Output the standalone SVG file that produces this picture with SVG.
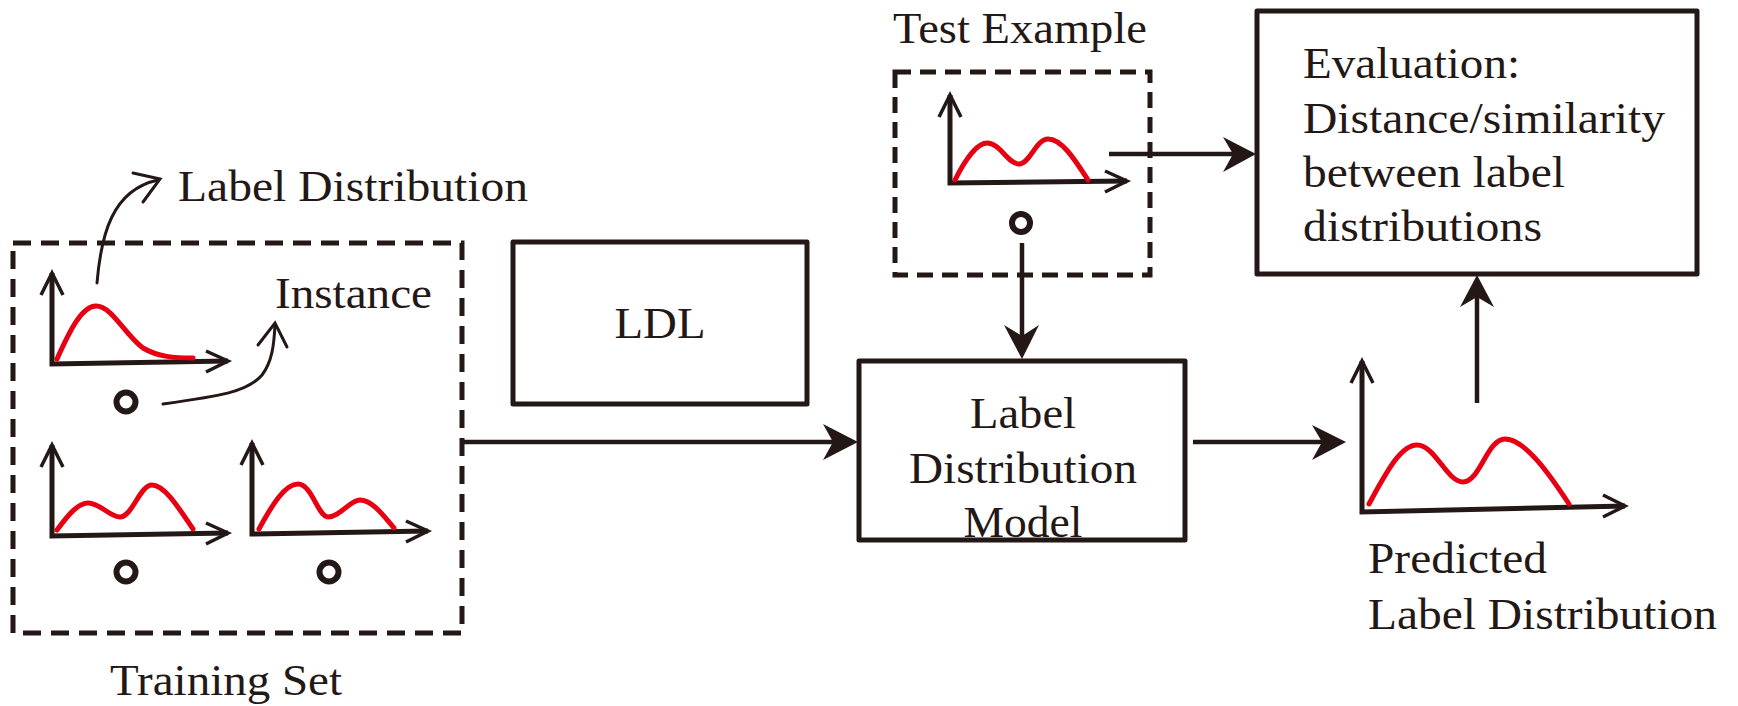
<svg xmlns="http://www.w3.org/2000/svg" width="1738" height="706" viewBox="0 0 1738 706">
<style>
  .txt { font-family: "Liberation Serif", "Times New Roman", serif; font-size: 44px; fill: #231815; }
  .box { fill: none; stroke: #231815; stroke-width: 5; stroke-linejoin: round; }
  .dash { fill: none; stroke: #231815; stroke-width: 5; stroke-dasharray: 18 10; }
  .dash2 { fill: none; stroke: #231815; stroke-width: 5; stroke-dasharray: 16 9; }
  .axis { fill: none; stroke: #231815; stroke-width: 5; stroke-linejoin: miter; }
  .chev { fill: none; stroke: #231815; stroke-width: 3.5; stroke-linejoin: miter; }
  .curve { fill: none; stroke: #e60012; stroke-width: 5; stroke-linecap: round; stroke-linejoin: round; }
  .inst { fill: #ffffff; stroke: #231815; stroke-width: 6; }
  .line { fill: none; stroke: #231815; stroke-width: 4.5; }
  .thin { fill: none; stroke: #231815; stroke-width: 3; stroke-linecap: round; }
  .head { fill: #231815; stroke: none; }
</style>
<rect width="1738" height="706" fill="#ffffff"/>

<g id="training-set">
  <rect class="dash" x="13" y="243" width="449" height="390"/>
  <text class="txt" x="110" y="695" textLength="232" lengthAdjust="spacingAndGlyphs">Training Set</text>
  <g id="chart-1">
    <path class="axis" d="M52,273 L52,364 L228,361"/>
    <path class="chev" d="M41,295 L52,273 L63,295"/>
    <path class="chev" d="M206,351 L228,361 L206,372"/>
    <path class="curve" d="M57,359 C70,330 82,306 96,306 C112,306 125,335 143,348 C158,357 175,358 193,358"/>
    <circle class="inst" cx="126" cy="402" r="9.5"/>
  </g>
  <g id="chart-2">
    <path class="axis" d="M52,445 L52,536 L228,533"/>
    <path class="chev" d="M41,467 L52,445 L63,467"/>
    <path class="chev" d="M206,523 L228,533 L206,544"/>
    <path class="curve" d="M57,530 C68,515 78,503 88,503 C100,503 110,517 120,517 C132,517 140,485 152,485 C165,485 180,510 193,529"/>
    <circle class="inst" cx="126" cy="572" r="9.5"/>
  </g>
  <g id="chart-3">
    <path class="axis" d="M252,443 L252,534 L428,531"/>
    <path class="chev" d="M241,465 L252,443 L263,465"/>
    <path class="chev" d="M406,521 L428,531 L406,542"/>
    <path class="curve" d="M259,529 C272,505 285,484 298,484 C312,484 318,517 328,517 C340,517 350,500 360,500 C372,500 383,515 394,528"/>
    <circle class="inst" cx="329" cy="572" r="9.5"/>
  </g>
</g>

<g id="label-distribution-note">
  <path class="thin" d="M97,283 C101,235 112,190 158,180"/>
  <path class="thin" d="M133,173 L160,179 L143,202"/>
  <text class="txt" x="178" y="201" textLength="350" lengthAdjust="spacingAndGlyphs">Label Distribution</text>
</g>

<g id="instance-note">
  <path class="thin" d="M163,404 C220,396 248,392 262,375 C272,362 274,345 275,325"/>
  <path class="thin" d="M258,345 L275,323 L287,347"/>
  <text class="txt" x="275" y="308" textLength="157" lengthAdjust="spacingAndGlyphs">Instance</text>
</g>

<g id="ldl">
  <rect class="box" x="513" y="242" width="294" height="162"/>
  <text class="txt" x="660" y="338" text-anchor="middle" textLength="91" lengthAdjust="spacingAndGlyphs">LDL</text>
</g>

<g id="test-example">
  <text class="txt" x="893" y="43" textLength="254" lengthAdjust="spacingAndGlyphs">Test Example</text>
  <rect class="dash2" x="895" y="72" width="255" height="203"/>
  <path class="axis" d="M950,95 L950,183 L1127,181"/>
  <path class="chev" d="M939,117 L950,95 L961,117"/>
  <path class="chev" d="M1105,171 L1127,181 L1105,192"/>
  <path class="curve" d="M955,180 C965,160 977,143 987,143 C1000,143 1008,164 1019,164 C1030,164 1036,139 1048,139 C1062,139 1075,160 1088,180"/>
  <circle class="inst" cx="1021" cy="223" r="9"/>
</g>

<g id="label-distribution-model">
  <rect class="box" x="859" y="361" width="326" height="179"/>
  <text class="txt" x="1023" y="428" text-anchor="middle" textLength="106" lengthAdjust="spacingAndGlyphs">Label</text>
  <text class="txt" x="1023" y="483" text-anchor="middle" textLength="228" lengthAdjust="spacingAndGlyphs">Distribution</text>
  <text class="txt" x="1023" y="537" text-anchor="middle" textLength="119" lengthAdjust="spacingAndGlyphs">Model</text>
</g>

<g id="evaluation">
  <rect class="box" x="1257" y="11" width="440" height="263"/>
  <text class="txt" x="1303" y="78" textLength="217" lengthAdjust="spacingAndGlyphs">Evaluation:</text>
  <text class="txt" x="1303" y="133" textLength="362" lengthAdjust="spacingAndGlyphs">Distance/similarity</text>
  <text class="txt" x="1303" y="187" textLength="262" lengthAdjust="spacingAndGlyphs">between label</text>
  <text class="txt" x="1303" y="241" textLength="239" lengthAdjust="spacingAndGlyphs">distributions</text>
</g>

<g id="predicted-label-distribution">
  <path class="axis" d="M1362,361 L1362,512 L1625,506"/>
  <path class="chev" d="M1351,383 L1362,361 L1373,383"/>
  <path class="chev" d="M1603,495 L1625,506 L1603,517"/>
  <path class="curve" d="M1369,504 C1385,475 1400,445 1417,445 C1435,445 1447,482 1463,482 C1480,482 1487,439 1505,439 C1525,439 1550,475 1569,504"/>
  <text class="txt" x="1368" y="573" textLength="179" lengthAdjust="spacingAndGlyphs">Predicted</text>
  <text class="txt" x="1368" y="629" textLength="349" lengthAdjust="spacingAndGlyphs">Label Distribution</text>
</g>

<g id="connectors">
  <line class="line" x1="462" y1="442" x2="835" y2="442"/>
  <path class="head" d="M858,442 L823,424 L833,442 L823,460 Z"/>
  <line class="line" x1="1193" y1="442" x2="1322" y2="442"/>
  <path class="head" d="M1346,442 L1312,425 L1322,442 L1312,460 Z"/>
  <line class="line" x1="1109" y1="154" x2="1235" y2="154"/>
  <path class="head" d="M1256,154 L1223,137 L1233,154 L1223,172 Z"/>
  <line class="line" x1="1022" y1="243" x2="1022" y2="338"/>
  <path class="head" d="M1022,359 L1004,325 L1022,336 L1039,325 Z"/>
  <line class="line" x1="1477" y1="403" x2="1477" y2="295"/>
  <path class="head" d="M1477,275 L1460,307 L1477,297 L1494,307 Z"/>
</g>
</svg>
